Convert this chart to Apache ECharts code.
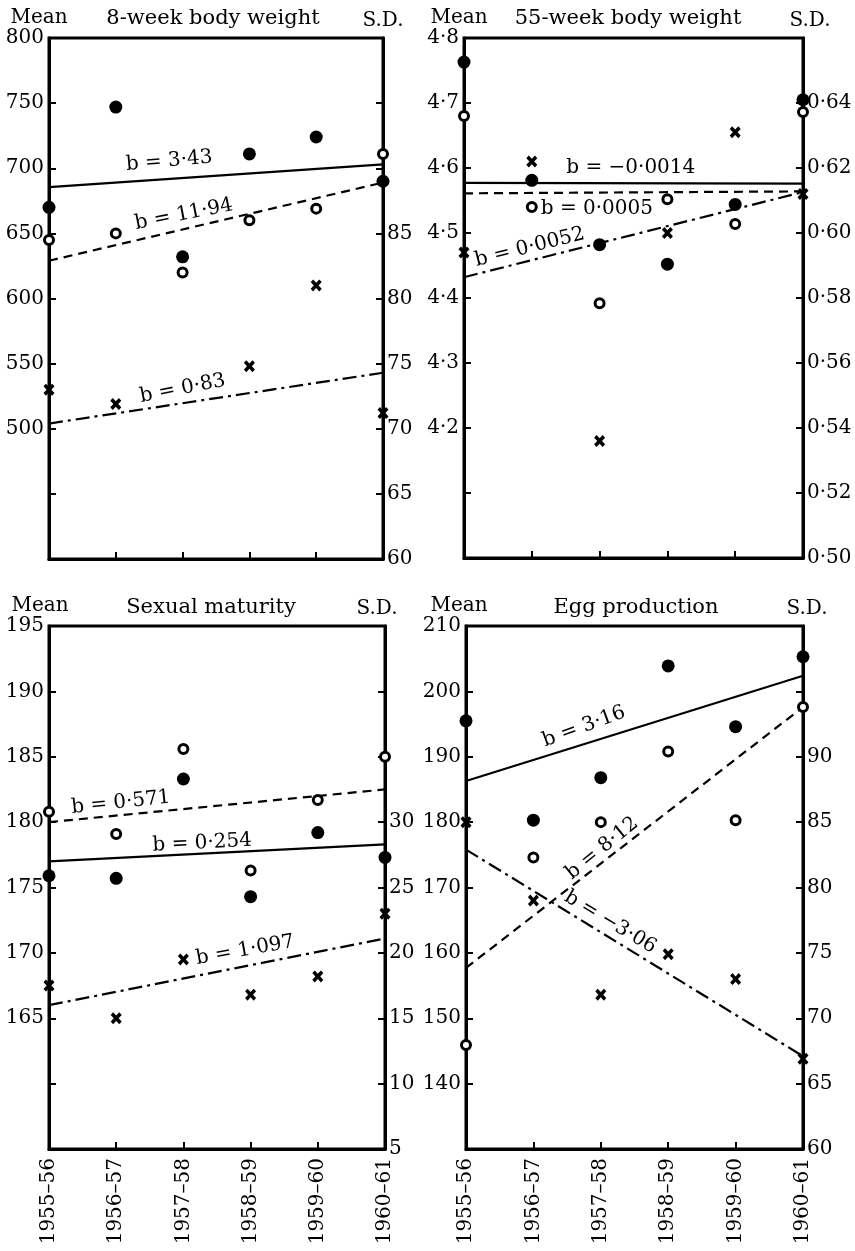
<!DOCTYPE html>
<html>
<head>
<meta charset="utf-8">
<script src="https://cdn.jsdelivr.net/npm/echarts@6/dist/echarts.min.js"></script>
<style>
  html, body { margin: 0; padding: 0; background: #fff; }
  #chart { width: 855px; height: 1251px; }
</style>
</head>
<body>
<div id="chart"></div>
<script>
// seasons on the x axis
const years = ['1955–56', '1956–57', '1957–58', '1958–59', '1959–60', '1960–61'];

// 8-week body weight (mean axis for dots, S.D. axis for crosses)
const wt8Filled = [670, 747, 632, 711, 724, 690];
const wt8Open = [645, 650, 620, 660, 669, 711];
const wt8Cross = [73.0, 71.9, null, 74.8, 81.0, 71.2];
const wt8Solid = [685.5, 703];
const wt8Dashed = [629, 689];
const wt8DashDot = [70.4, 74.3];
const wt8MeanLabels = [500, 550, 600, 650, 700, 750, 800];
const wt8SdLabels = [60, 65, 70, 75, 80, 85];

// 55-week body weight
const wt55Filled = [4.763, 4.581, 4.482, 4.452, 4.544, 4.705];
const wt55Open = [4.68, 4.54, 4.392, 4.552, 4.514, 4.686];
const wt55Cross = [0.594, 0.622, 0.536, 0.600, 0.631, 0.612];
const wt55Solid = [4.577, 4.576];
const wt55Dashed = [4.561, 4.564];
const wt55DashDot = [0.5864, 0.6126];
const wt55MeanLabels = [4.2, 4.3, 4.4, 4.5, 4.6, 4.7, 4.8];
const wt55SdLabels = [0.50, 0.52, 0.54, 0.56, 0.58, 0.60, 0.62, 0.64];

// sexual maturity
const smFilled = [175.9, 175.7, 183.3, 174.3, 179.2, 177.3];
const smOpen = [180.8, 179.1, 185.6, 176.3, 181.7, 185.0];
const smCross = [17.5, 15.0, 19.5, 16.8, 18.2, 23.0];
const smSolid = [177.0, 178.3];
const smDashed = [180.0, 182.5];
const smDashDot = [16.0, 21.1];
const smMeanLabels = [165, 170, 175, 180, 185, 190, 195];
const smSdLabels = [5, 10, 15, 20, 25, 30];

// egg production
const eggFilled = [195.5, 180.3, 186.8, 203.9, 194.6, 205.3];
const eggOpen = [145.9, 174.6, 180.0, 190.8, 180.3, 197.6];
const eggCross = [85.0, 79.0, 71.8, 74.9, 73.0, 66.9];
const eggSolid = [186.3, 202.4];
const eggDashed = [157.7, 197.6];
const eggDashDot = [82.9, 67.1];
const eggMeanLabels = [140, 150, 160, 170, 180, 190, 200, 210];
const eggSdLabels = [60, 65, 70, 75, 80, 85, 90];

const FONT = 'DejaVu Serif';
const FS = 20;
const crossPath = 'path://M2.2,0 L5,2.8 L7.8,0 L10,2.2 L7.2,5 L10,7.8 L7.8,10 L5,7.2 L2.2,10 L0,7.8 L2.8,5 L0,2.2 Z';

const dot = (v, d) => v.toFixed(d).replace('.', '·');
const hasLabel = (list, v) => list.some(x => Math.abs(x - v) < 1e-6);

const panels = [
  {
    title: '8-week body weight', titleX: 213, titleY: 8,
    grid: { left: 49, top: 38, width: 334, height: 521 },
    mean: [400, 800, 50], sd: [60, 100, 5], meanDigits: 0, sdDigits: 0,
    meanLabels: wt8MeanLabels, sdLabels: wt8SdLabels, meanShift: -10, sdShift: 0,
    filled: wt8Filled, open: wt8Open, cross: wt8Cross,
    solid: wt8Solid, dashed: wt8Dashed, dashdot: wt8DashDot,
    notes: [
      { at: [1.8, 705.5], text: 'b = 3·43', rot: 5 },
      { at: [2.02, 664.5], text: 'b = 11·94', rot: 11, },
      { at: [2.0, 530.8], text: 'b = 0·83', rot: 11 }
    ],
    showX: false
  },
  {
    title: '55-week body weight', titleX: 628, titleY: 8,
    grid: { left: 464, top: 38, width: 339, height: 520 },
    mean: [4.0, 4.8, 0.1], sd: [0.50, 0.66, 0.02], meanDigits: 1, sdDigits: 2,
    meanLabels: wt55MeanLabels, sdLabels: wt55SdLabels, meanShift: -5, sdShift: 7,
    filled: wt55Filled, open: wt55Open, cross: wt55Cross,
    solid: wt55Solid, dashed: wt55Dashed, dashdot: wt55DashDot,
    notes: [
      { at: [2.46, 4.6], text: 'b = −0·0014', rot: 0 },
      { at: [1.96, 4.538], text: 'b = 0·0005', rot: 0 },
      { at: [0.97, 4.478], text: 'b = 0·0052', rot: 14 }
    ],
    showX: false
  },
  {
    title: 'Sexual maturity', titleX: 211, titleY: 597,
    grid: { left: 49, top: 626, width: 336, height: 523 },
    mean: [155, 195, 5], sd: [5, 45, 5], meanDigits: 0, sdDigits: 0,
    meanLabels: smMeanLabels, sdLabels: smSdLabels, meanShift: -9, sdShift: -8,
    filled: smFilled, open: smOpen, cross: smCross,
    solid: smSolid, dashed: smDashed, dashdot: smDashDot,
    notes: [
      { at: [1.07, 181.5], text: 'b = 0·571', rot: 6 },
      { at: [2.28, 178.4], text: 'b = 0·254', rot: 3 },
      { at: [2.92, 170.2], text: 'b = 1·097', rot: 10 }
    ],
    showX: true
  },
  {
    title: 'Egg production', titleX: 636, titleY: 597,
    grid: { left: 466, top: 626, width: 337, height: 523 },
    mean: [130, 210, 10], sd: [60, 100, 5], meanDigits: 0, sdDigits: 0,
    meanLabels: eggMeanLabels, sdLabels: eggSdLabels, meanShift: -7, sdShift: 4,
    filled: eggFilled, open: eggOpen, cross: eggCross,
    solid: eggSolid, dashed: eggDashed, dashdot: eggDashDot,
    notes: [
      { at: [1.75, 194.6], text: 'b = 3·16', rot: 20 },
      { at: [2.02, 176.0], text: 'b = 8·12', rot: 39 },
      { at: [2.14, 164.7], text: 'b = −3·06', rot: -31 }
    ],
    showX: true
  }
];

const option = {
  animation: false,
  backgroundColor: '#fff',
  textStyle: { fontFamily: FONT, color: '#000' },
  title: [], grid: [], xAxis: [], yAxis: [], series: []
};

const axisLine = { show: true, lineStyle: { color: '#000', width: 3 } };
const tick = { show: true, inside: true, length: 7, lineStyle: { color: '#000', width: 2 } };

panels.forEach((p, i) => {
  option.title.push({
    text: p.title, left: p.titleX, top: p.titleY, textAlign: 'center', padding: 0,
    textStyle: { fontFamily: FONT, fontSize: 21, fontWeight: 'normal', color: '#000' }
  });
  option.grid.push(Object.assign({ show: true, borderColor: '#000', borderWidth: 3, containLabel: false }, p.grid));
  option.xAxis.push({
    type: 'value', gridIndex: i, min: 0, max: 5, interval: 1,
    axisLine: axisLine, axisTick: tick, splitLine: { show: false },
    axisLabel: {
      show: p.showX, rotate: 90, margin: 9, color: '#000',
      fontFamily: FONT, fontSize: FS,
      formatter: v => years[v]
    }
  });
  const meanIdx = option.yAxis.length;
  option.yAxis.push({
    type: 'value', gridIndex: i, position: 'left',
    min: p.mean[0], max: p.mean[1], interval: p.mean[2],
    name: 'Mean', nameGap: 7,
    nameTextStyle: {
      fontFamily: FONT, fontSize: FS, color: '#000', align: 'center',
      padding: p.meanShift < 0 ? [0, -2 * p.meanShift, 0, 0] : [0, 0, 0, 2 * p.meanShift]
    },
    axisLine: axisLine, axisTick: tick, splitLine: { show: false },
    axisLabel: {
      margin: 5, color: '#000', fontFamily: FONT, fontSize: FS,
      formatter: v => hasLabel(p.meanLabels, v) ? dot(v, p.meanDigits) : ''
    }
  });
  const sdIdx = option.yAxis.length;
  option.yAxis.push({
    type: 'value', gridIndex: i, position: 'right',
    min: p.sd[0], max: p.sd[1], interval: p.sd[2],
    name: 'S.D.', nameGap: 7,
    nameTextStyle: {
      fontFamily: FONT, fontSize: FS, color: '#000', align: 'center',
      padding: p.sdShift < 0 ? [0, -2 * p.sdShift, 0, 0] : [0, 0, 0, 2 * p.sdShift]
    },
    axisLine: axisLine, axisTick: tick, splitLine: { show: false },
    axisLabel: {
      margin: 4, color: '#000', fontFamily: FONT, fontSize: FS,
      formatter: v => hasLabel(p.sdLabels, v) ? dot(v, p.sdDigits) : ''
    }
  });

  const fit = (vals, yIdx, type) => ({
    type: 'line', xAxisIndex: i, yAxisIndex: yIdx, z: 2,
    data: [[0, vals[0]], [5, vals[1]]],
    symbol: 'none', silent: true,
    lineStyle: { color: '#000', width: 2.2, type: type, opacity: 1 }
  });
  option.series.push(fit(p.solid, meanIdx, 'solid'));
  option.series.push(fit(p.dashed, meanIdx, [9, 6]));
  option.series.push(fit(p.dashdot, sdIdx, [14, 5, 3, 5]));

  option.series.push({
    type: 'scatter', xAxisIndex: i, yAxisIndex: meanIdx, z: 4,
    data: p.filled.map((v, k) => [k, v]),
    symbol: 'circle', symbolSize: 13,
    itemStyle: { color: '#000', opacity: 1 }
  });
  option.series.push({
    type: 'scatter', xAxisIndex: i, yAxisIndex: meanIdx, z: 4,
    data: p.open.map((v, k) => [k, v]),
    symbol: 'circle', symbolSize: 9,
    itemStyle: { color: '#fff', borderColor: '#000', borderWidth: 3, opacity: 1 }
  });
  option.series.push({
    type: 'scatter', xAxisIndex: i, yAxisIndex: sdIdx, z: 4,
    data: p.cross.map((v, k) => [k, v]).filter(d => d[1] != null),
    symbol: crossPath, symbolSize: [11, 12],
    itemStyle: { color: '#000', opacity: 1 }
  });
  option.series.push({
    type: 'scatter', xAxisIndex: i, yAxisIndex: meanIdx, z: 5, silent: true,
    symbolSize: 0,
    itemStyle: { opacity: 1 },
    data: p.notes.map(n => ({
      value: n.at,
      label: {
        show: true, position: 'inside', formatter: n.text, rotate: n.rot,
        fontFamily: FONT, fontSize: FS, color: '#000', opacity: 1,
        textBorderWidth: 0
      }
    }))
  });
});

const myChart = echarts.init(document.getElementById('chart'));
myChart.setOption(option);
</script>
</body>
</html>
